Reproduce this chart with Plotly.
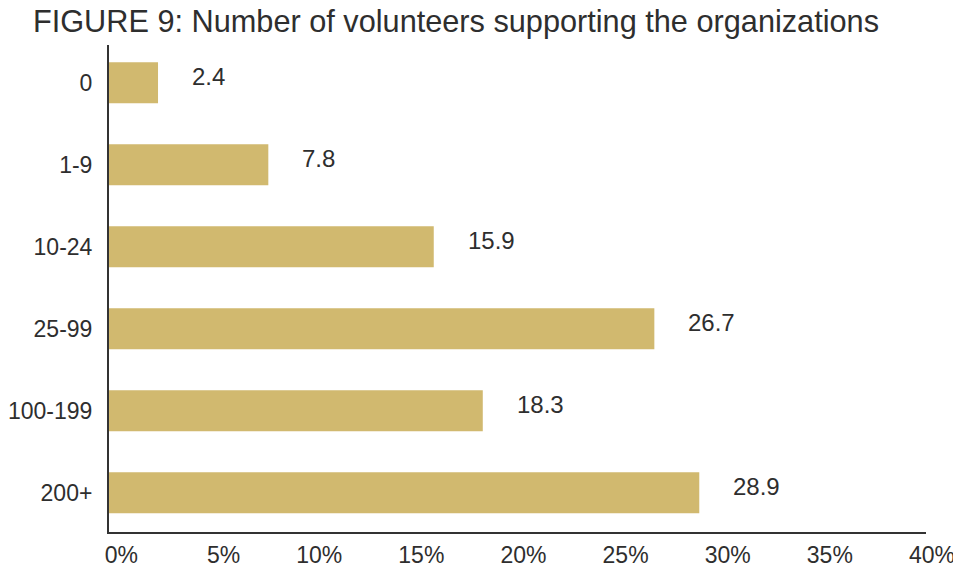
import plotly.graph_objects as go

categories = ["0", "1-9", "10-24", "25-99", "100-199", "200+"]
values = [2.4, 7.8, 15.9, 26.7, 18.3, 28.9]
tick_vals = [0, 5, 10, 15, 20, 25, 30, 35, 40]
tick_text = ["0%", "5%", "10%", "15%", "20%", "25%", "30%", "35%", "40%"]
value_labels = ["2.4", "7.8", "15.9", "26.7", "18.3", "28.9"]

BAR = "#D1B96F"
TXT = "#2e2e2e"
FONT = "Liberation Sans, Arial, sans-serif"

fig = go.Figure()
fig.add_trace(go.Bar(
    x=values, y=categories, orientation="h",
    marker=dict(color=BAR, line=dict(width=0)),
    width=0.5, hoverinfo="skip",
))

for c, v, t in zip(categories, values, value_labels):
    fig.add_annotation(x=v, y=c, text=t, showarrow=False,
                       xanchor="left", yanchor="middle", xshift=32, yshift=6,
                       font=dict(family=FONT, size=24, color=TXT))

W, H = 953, 558
fig.update_layout(
    width=W, height=H,
    margin=dict(l=101, r=35, t=37, b=34, autoexpand=False),
    paper_bgcolor="white", plot_bgcolor="white",
    showlegend=False,
    title=dict(text="FIGURE 9: Number of volunteers supporting the organizations",
               x=448/W, xanchor="center", y=1-13/H, yanchor="middle",
               xref="container", yref="container",
               font=dict(family=FONT, size=30.7, color=TXT)),
    xaxis=dict(range=[0, 40], tickvals=tick_vals, ticktext=tick_text,
               showgrid=False, zeroline=False, showline=True, automargin=False,
               linecolor="#333333", linewidth=2, ticks="",
               ticklabelposition="outside left", ticklabelshift=30,
               ticklabelstandoff=1,
               tickfont=dict(family=FONT, size=23, color=TXT)),
    yaxis=dict(range=[5.48, -0.46], showgrid=False, zeroline=False,
               showline=True, linecolor="#333333", linewidth=2, ticks="",
               ticklabelstandoff=10, automargin=False,
               tickfont=dict(family=FONT, size=23, color=TXT)),
)

fig.write_html("out.html")
